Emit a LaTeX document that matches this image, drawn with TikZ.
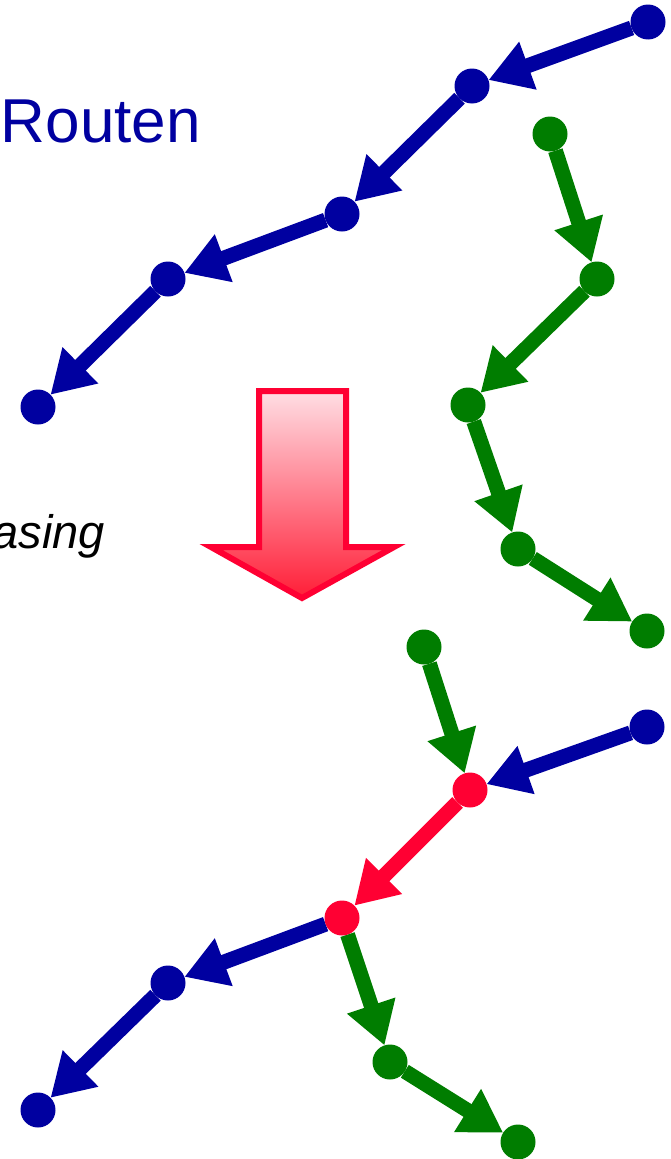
\documentclass[tikz,border=0pt]{standalone}
\usepackage{fontspec}
\setmainfont{Liberation Sans}
\usetikzlibrary{arrows.meta}
\definecolor{routeblue}{RGB}{0,0,160}
\definecolor{routegreen}{RGB}{0,125,0}
\definecolor{mergered}{RGB}{255,0,51}
\definecolor{pinktop}{RGB}{255,222,228}
\definecolor{redbottom}{RGB}{255,30,55}
\pgfdeclarelayer{links}
\pgfsetlayers{links,main}
\begin{document}
\begin{tikzpicture}[x=1pt,y=-1pt,
  dot/.style={circle,fill=#1,minimum size=35pt,inner sep=0pt,outer sep=0pt},
  link/.style={draw=#1,line width=15pt,-{Triangle[length=42pt,width=48pt]}},
  label/.style={inner sep=0pt,outer sep=0pt}]
\useasboundingbox (0,0) rectangle (670,1159);
\clip (0,0) rectangle (670,1159);

% headings
\node[label,anchor=base west,text=routeblue,font=\fontsize{62}{72}\selectfont] (title) at (1,142) {Routen};
\node[label,anchor=base east,font=\fontsize{47}{56}\selectfont\itshape] (note) at (105,548) {asing};

% first route (blue)
\node[dot=routeblue] (b1) at (648,22) {};
\node[dot=routeblue] (b2) at (472,86) {};
\node[dot=routeblue] (b3) at (342,214) {};
\node[dot=routeblue] (b4) at (168,279) {};
\node[dot=routeblue] (b5) at (38,407) {};

% second route (green)
\node[dot=routegreen] (g1) at (550,134) {};
\node[dot=routegreen] (g2) at (597,279) {};
\node[dot=routegreen] (g3) at (468,405) {};
\node[dot=routegreen] (g4) at (518,549) {};
\node[dot=routegreen] (g5) at (647,631) {};

% merged routes sharing one segment
\node[dot=routegreen] (mg1) at (424,647) {};
\node[dot=routeblue] (mb1) at (647,727) {};
\node[dot=mergered] (m1) at (470,790) {};
\node[dot=mergered] (m2) at (342,918) {};
\node[dot=routeblue] (mb4) at (168,983) {};
\node[dot=routeblue] (mb5) at (38,1110) {};
\node[dot=routegreen] (mg4) at (390,1062) {};
\node[dot=routegreen] (mg5) at (518,1142) {};

\begin{pgfonlayer}{links}
\draw[link=routeblue] (b1) -- (b2);
\draw[link=routeblue] (b2) -- (b3);
\draw[link=routeblue] (b3) -- (b4);
\draw[link=routeblue] (b4) -- (b5);
\draw[link=routegreen] (g1) -- (g2);
\draw[link=routegreen] (g2) -- (g3);
\draw[link=routegreen] (g3) -- (g4);
\draw[link=routegreen] (g4) -- (g5);
\draw[link=routegreen] (mg1) -- (m1);
\draw[link=routeblue] (mb1) -- (m1);
\draw[link=mergered] (m1) -- (m2);
\draw[link=routeblue] (m2) -- (mb4);
\draw[link=routeblue] (mb4) -- (mb5);
\draw[link=routegreen] (m2) -- (mg4);
\draw[link=routegreen] (mg4) -- (mg5);
\end{pgfonlayer}

% block arrow between the two states
\draw[draw=mergered,line width=6pt,line join=miter,top color=pinktop,bottom color=redbottom]
  (259,391) -- (346,391) -- (346,547) -- (394,547) -- (302,598) -- (211,547) -- (259,547) -- cycle;
\end{tikzpicture}
\end{document}
